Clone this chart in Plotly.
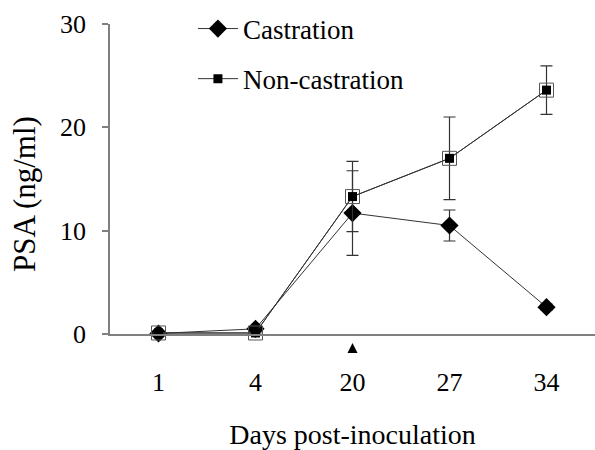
import plotly.graph_objects as go

days = ["1", "4", "20", "27", "34"]
castration = [0.05, 0.5, 11.7, 10.5, 2.6]
castration_err = [0.0, 0.0, 4.1, 1.5, 0.3]
noncastration = [0.1, 0.1, 13.3, 17.0, 23.6]
noncastration_err = [0.0, 0.0, 3.4, 4.0, 2.35]
y_ticks = [0, 10, 20, 30]
arrow_day = "20"

FONT = "Liberation Serif"
LINE = "#333333"

fig = go.Figure()

# Castration
fig.add_trace(go.Scatter(
    x=days, y=castration, mode="lines+markers", name="Castration",
    line=dict(color=LINE, width=1),
    marker=dict(symbol="diamond", size=14, color="black"),
    error_y=dict(type="data", array=castration_err, visible=True,
                 color=LINE, thickness=1.2, width=6),
    cliponaxis=False, legendgroup="c",
))
# Non-castration: outer open square (no legend)
fig.add_trace(go.Scatter(
    x=days, y=noncastration, mode="lines+markers",
    line=dict(color=LINE, width=1),
    marker=dict(symbol="square-open", size=14, color="#555555", line=dict(width=1)),
    error_y=dict(type="data", array=noncastration_err, visible=True,
                 color=LINE, thickness=1.2, width=6),
    cliponaxis=False, showlegend=False, legendgroup="nc", hoverinfo="skip",
))
# Non-castration: inner filled square
fig.add_trace(go.Scatter(
    x=days, y=noncastration, mode="lines+markers", name="Non-castration",
    line=dict(color=LINE, width=1),
    marker=dict(symbol="square", size=9, color="black"),
    cliponaxis=False, legendgroup="nc",
))

# small arrow under day 20 (category axis -> use category index)
fig.add_annotation(
    x=days.index(arrow_day), y=-0.029, xref="x", yref="paper", text=" ", showarrow=True,
    font=dict(size=2), ax=0, ay=12, standoff=0, startstandoff=0,
    arrowhead=2, arrowsize=2, arrowwidth=1, arrowcolor="black",
)

# y-axis title
fig.add_annotation(
    x=-0.175, y=0.452, xref="paper", yref="paper", text="PSA (ng/ml)",
    textangle=-90, showarrow=False, xanchor="center", yanchor="middle",
    font=dict(family=FONT, size=31, color="black"),
)

fig.update_layout(
    width=595, height=450,
    margin=dict(l=110, r=0, t=24, b=116, autoexpand=False),
    paper_bgcolor="white", plot_bgcolor="white",
    font=dict(family=FONT, size=25, color="black"),
    showlegend=True,
    legend=dict(
        x=0.171, y=0.99, xanchor="left", yanchor="top", yref="container",
        traceorder="grouped", tracegroupgap=12,
        font=dict(family=FONT, size=27, color="black"),
        bgcolor="rgba(0,0,0,0)", itemwidth=40,
    ),
    xaxis=dict(
        type="category", range=[-0.5, 4.5],
        showline=True, linecolor="#808080", linewidth=1.5,
        ticks="", showgrid=False, zeroline=False,
        ticklabelstandoff=24,
        tickfont=dict(family=FONT, size=26),
        title=dict(text="Days post-inoculation", font=dict(family=FONT, size=28), standoff=30),
    ),
    yaxis=dict(
        range=[0, 30], tickvals=y_ticks,
        showline=True, linecolor="#808080", linewidth=1.5,
        ticks="outside", ticklen=6, tickcolor="#808080", tickwidth=1.5,
        showgrid=False, zeroline=False,
        ticklabelstandoff=11,
        tickfont=dict(family=FONT, size=26),
    ),
)

fig.write_html("out.html", config={"displayModeBar": False},
               post_script="document.body.style.margin='0px';")
